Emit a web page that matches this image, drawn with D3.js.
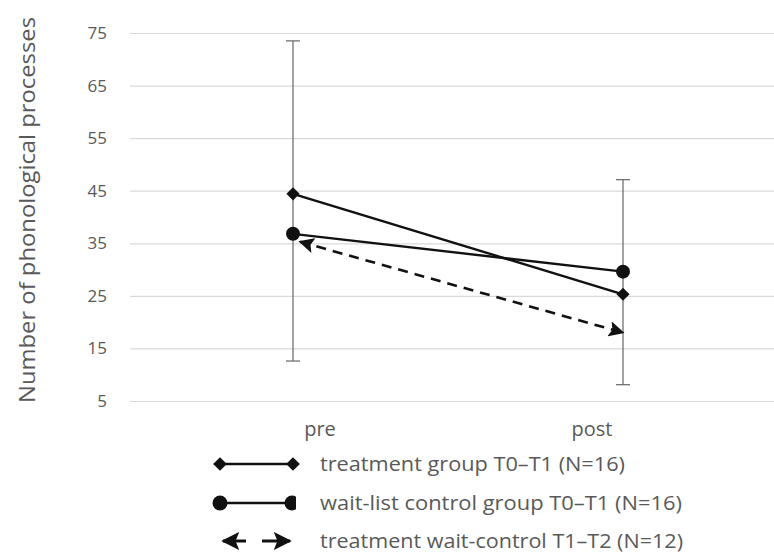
<!DOCTYPE html>
<html>
<head>
<meta charset="utf-8">
<script src="https://cdn.jsdelivr.net/npm/d3@7"></script>
<style>
  html, body { margin: 0; padding: 0; background: #fff; }
  svg { display: block; font-family: "Open Sans", "Noto Sans", sans-serif; }
</style>
</head>
<body>
<div id="chart"></div>
<script>
// data
const categories = ["pre", "post"];
const yTicks = [5, 15, 25, 35, 45, 55, 65, 75];

const treatment = [44.4, 25.3];       // treatment group T0-T1
const waitList = [36.8, 29.6];        // wait-list control group T0-T1
const waitControl = [35.3, 18.0];     // treatment wait-control T1-T2

// error bar ends (low / high) per category
const errLow = [12.6, 8.1];
const errHigh = [73.5, 47.1];

const legendLabels = [
    "treatment group T0\u2013T1 (N=16)",
    "wait-list control group T0\u2013T1 (N=16)",
    "treatment wait-control T1\u2013T2 (N=12)"
];
const legendWidths = [305, 362, 363];

const width = 774;
const height = 556;
const margin = { top: 33, bottom: 155, left: 130, right: 0 };

const svg = d3.select("#chart")
    .append("svg")
    .attr("width", width)
    .attr("height", height);

const defs = svg.append("defs");
defs.append("marker")
    .attr("id", "arrow")
    .attr("viewBox", "0 0 10 10")
    .attr("refX", 9)
    .attr("refY", 5)
    .attr("markerWidth", 6)
    .attr("markerHeight", 6)
    .attr("markerUnits", "strokeWidth")
    .attr("orient", "auto-start-reverse")
    .append("path")
    .attr("d", "M0,0 L10,5 L0,10 L2,5 Z")
    .attr("fill", "#111");

// scales
const y = d3.scaleLinear().domain([5, 75]).range([401, 33]);
const x = d3.scalePoint().domain(categories).range([293, 623]);
const xLabel = d3.scalePoint().domain(categories).range([320, 592]);

// grid
const grid = svg.append("g")
    .attr("transform", `translate(${margin.left},0)`)
    .call(d3.axisLeft(y).tickValues(yTicks).tickSize(-(width - margin.left)).tickFormat(""));
grid.select(".domain").remove();
grid.selectAll("line").attr("stroke", "#d9d9d9").attr("stroke-width", 1.2);

// y tick labels
svg.append("g")
    .selectAll("text")
    .data(yTicks)
    .join("text")
    .attr("x", 107)
    .attr("y", d => y(d))
    .attr("dy", "0.35em")
    .attr("text-anchor", "end")
    .attr("fill", "#595959")
    .style("font-size", "17px")
    .text(d => d);

// x labels
svg.append("g")
    .selectAll("text")
    .data(categories)
    .join("text")
    .attr("x", d => xLabel(d))
    .attr("y", 436)
    .attr("text-anchor", "middle")
    .attr("fill", "#595959")
    .style("font-size", "20px")
    .text(d => d);

// y title
svg.append("text")
    .attr("transform", `translate(35, 210) rotate(-90)`)
    .attr("text-anchor", "middle")
    .attr("fill", "#595959")
    .attr("textLength", 386)
    .attr("lengthAdjust", "spacingAndGlyphs")
    .style("font-size", "21px")
    .text("Number of phonological processes");

// error bars
const eb = svg.append("g").attr("stroke", "#666").attr("stroke-width", 1.2);
categories.forEach((c, i) => {
    eb.append("line")
        .attr("x1", x(c)).attr("x2", x(c))
        .attr("y1", y(errLow[i])).attr("y2", y(errHigh[i]));
    [errLow[i], errHigh[i]].forEach(v => {
        eb.append("line")
            .attr("x1", x(c) - 7).attr("x2", x(c) + 7)
            .attr("y1", y(v)).attr("y2", y(v));
    });
});

const line = d3.line().x((d, i) => x(categories[i])).y(d => y(d));

// treatment wait-control (dashed with arrows)
const dashLine = d3.line().x((d, i) => x(categories[i]) + (i === 0 ? 7 : 0)).y(d => y(d));
svg.append("path")
    .datum(waitControl)
    .attr("d", dashLine)
    .attr("fill", "none")
    .attr("stroke", "#111")
    .attr("stroke-width", 2.6)
    .attr("stroke-dasharray", "10,7")
    .attr("marker-start", "url(#arrow)")
    .attr("marker-end", "url(#arrow)");

// wait-list control
svg.append("path")
    .datum(waitList)
    .attr("d", line)
    .attr("fill", "none")
    .attr("stroke", "#111")
    .attr("stroke-width", 2.4);
svg.append("g")
    .selectAll("circle")
    .data(waitList)
    .join("circle")
    .attr("cx", (d, i) => x(categories[i]))
    .attr("cy", d => y(d))
    .attr("r", 7)
    .attr("fill", "#111");

// treatment
svg.append("path")
    .datum(treatment)
    .attr("d", line)
    .attr("fill", "none")
    .attr("stroke", "#111")
    .attr("stroke-width", 2.4);
svg.append("g")
    .selectAll("path")
    .data(treatment)
    .join("path")
    .attr("transform", (d, i) => `translate(${x(categories[i])},${y(d)})`)
    .attr("d", d3.symbol(d3.symbolDiamond2, 110))
    .attr("fill", "#111");

// legend
const legY = [464, 503, 541];
const lx1 = 220, lx2 = 293;
const legend = svg.append("g");

legend.selectAll("text")
    .data(legendLabels)
    .join("text")
    .attr("x", 320)
    .attr("y", (d, i) => legY[i])
    .attr("dy", "0.35em")
    .attr("fill", "#595959")
    .attr("textLength", (d, i) => legendWidths[i])
    .attr("lengthAdjust", "spacingAndGlyphs")
    .style("font-size", "20px")
    .text(d => d);

// row 1: diamonds
legend.append("line")
    .attr("x1", lx1).attr("x2", lx2).attr("y1", legY[0]).attr("y2", legY[0])
    .attr("stroke", "#111").attr("stroke-width", 2.4);
[lx1, lx2].forEach(px => {
    legend.append("path")
        .attr("transform", `translate(${px},${legY[0]})`)
        .attr("d", d3.symbol(d3.symbolDiamond2, 120))
        .attr("fill", "#111");
});

// row 2: circles, right one cut flat
defs.append("clipPath").attr("id", "cut")
    .append("rect").attr("x", lx2 - 10).attr("y", legY[1] - 10).attr("width", 13).attr("height", 20);
legend.append("line")
    .attr("x1", lx1).attr("x2", lx2).attr("y1", legY[1]).attr("y2", legY[1])
    .attr("stroke", "#111").attr("stroke-width", 2.4);
legend.append("circle").attr("cx", lx1).attr("cy", legY[1]).attr("r", 7.5).attr("fill", "#111");
legend.append("circle").attr("cx", lx2 - 1).attr("cy", legY[1]).attr("r", 7.5).attr("fill", "#111")
    .attr("clip-path", "url(#cut)");

// row 3: dashed arrows
legend.append("line")
    .attr("x1", 223).attr("x2", 246).attr("y1", legY[2]).attr("y2", legY[2])
    .attr("stroke", "#111").attr("stroke-width", 3)
    .attr("marker-start", "url(#arrow)");
legend.append("line")
    .attr("x1", 262).attr("x2", 290).attr("y1", legY[2]).attr("y2", legY[2])
    .attr("stroke", "#111").attr("stroke-width", 3)
    .attr("marker-end", "url(#arrow)");
</script>
</body>
</html>
